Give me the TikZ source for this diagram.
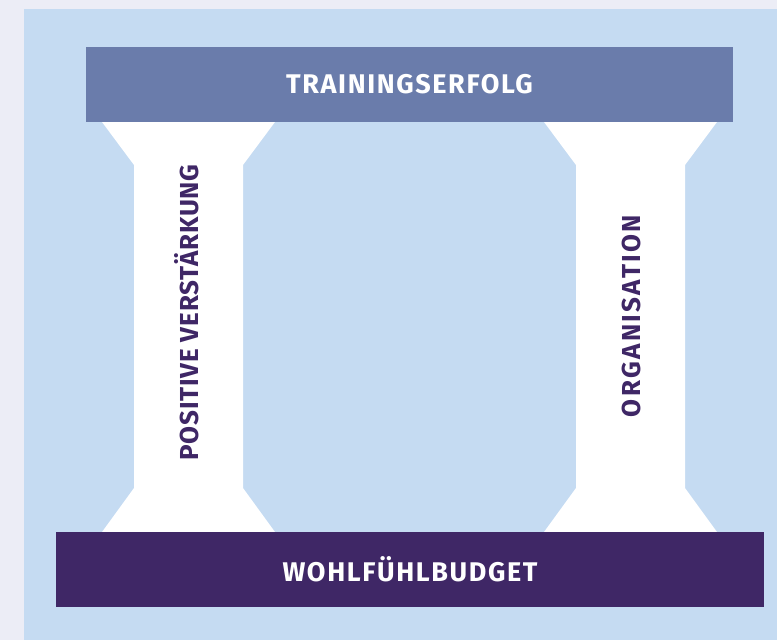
\documentclass[tikz,border=0pt]{standalone}
\usepackage{fontspec}
\setmainfont{Fira Sans}
\newfontfamily\roofface[LetterSpace=6]{Fira Sans}
\newfontfamily\baseface[LetterSpace=6]{Fira Sans}
\newfontfamily\leftface[LetterSpace=3]{Fira Sans}
\newfontfamily\rightface[LetterSpace=9]{Fira Sans}
\usepackage{xcolor}

\definecolor{pagebg}{HTML}{ECEDF6}
\definecolor{panelbg}{HTML}{C5DBF2}
\definecolor{roofcol}{HTML}{6A7CAB}
\definecolor{basecol}{HTML}{3F2766}

\begin{document}
\begin{tikzpicture}%
  [x=1pt,y=-1pt,
   bar/.style={rectangle,inner sep=0,text=white}]
  \tikzstyle{pillar text}=[rotate=90,text=basecol,inner sep=0]
  \fill[pagebg] (0,0) rectangle (777,640);
  \fill[panelbg] (24,9) rectangle (777,640);
  % the two pillars
  \foreach \dx in {0,442}
    \fill[white,shift={(\dx,0)}] (102,122) -- (275,122) -- (243,165) -- (243,488)
      -- (275,532) -- (102,532) -- (134,488) -- (134,165) -- cycle;
  \node(roof)[bar,fill=roofcol,minimum width=647,minimum height=75,
    font=\roofface\fontsize{27}{30}\selectfont\bfseries] at (409.5,84.5) {TRAININGSERFOLG};
  \node(base)[bar,fill=basecol,minimum width=708,minimum height=75,
    font=\baseface\fontsize{27}{30}\selectfont\bfseries] at (410,569.5) {WOHLFÜHLBUDGET};
  \node(left)[pillar text,font=\leftface\fontsize{26}{30}\selectfont\bfseries] at (187,312.5) {POSITIVE VERSTÄRKUNG};
  \node(right)[pillar text,font=\rightface\fontsize{26}{30}\selectfont\bfseries] at (631,316) {ORGANISATION};
\end{tikzpicture}
\end{document}
